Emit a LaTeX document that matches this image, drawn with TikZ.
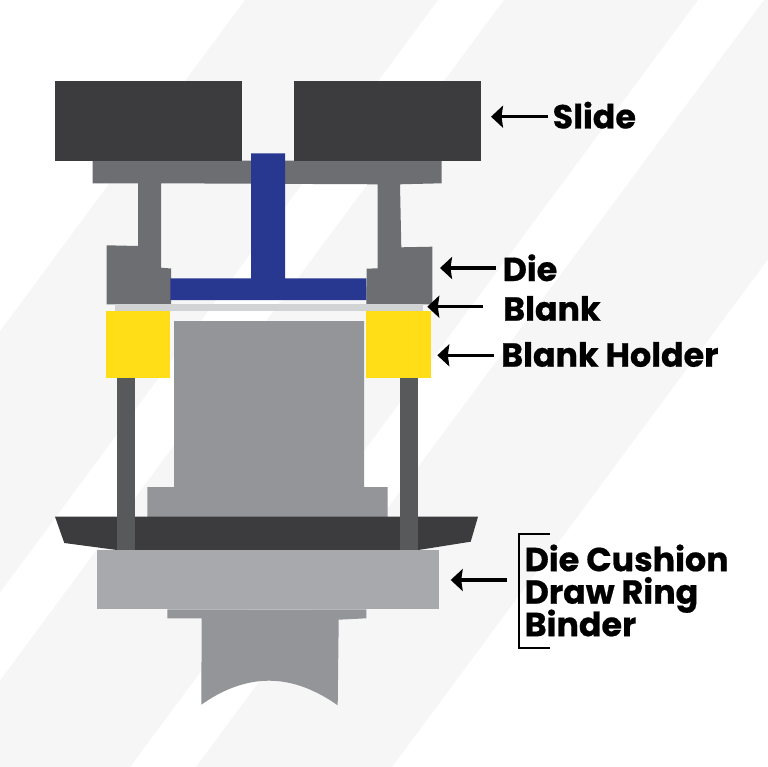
\documentclass[tikz,border=0pt]{standalone}
\usepackage{fontspec}
\setmainfont{Poppins}[BoldFont={Poppins Bold},BoldFeatures={FakeBold=0.6}]
\usetikzlibrary{arrows.meta}
\setlength{\lineskiplimit}{-100pt}
\setlength{\normallineskiplimit}{-100pt}
\definecolor{bandgrey}{HTML}{F6F6F6}
\definecolor{slidedark}{HTML}{3C3C3E}
\definecolor{diegrey}{HTML}{6D6E71}
\definecolor{punchblue}{HTML}{283891}
\definecolor{holderyellow}{HTML}{FFDE17}
\definecolor{punchgrey}{HTML}{939598}
\definecolor{pingrey}{HTML}{58595B}
\definecolor{ringgrey}{HTML}{A7A9AC}
\definecolor{blankgrey}{HTML}{D1D3D4}
\tikzset{
  band/.style={fill=bandgrey},
  partlabel/.style={anchor=west,inner sep=0pt,font=\bfseries\fontsize{33.3}{32.5}\selectfont,text=black},
  pointer/.style={line width=3.5pt,-{Stealth[length=12pt,width=22pt,inset=1.5pt]}},
  bracketline/.style={line width=2pt,line cap=butt,black}
}
\begin{document}
\begin{tikzpicture}[x=1pt,y=-1pt]
\useasboundingbox (0,0) rectangle (768,767);
\fill[white] (0,0) rectangle (768,767);
% diagonal background bands
\begin{scope}
\clip (0,0) rectangle (768,767);
\fill[band] (245,0) -- (438,0) -- (-129,767) -- (-322,767) -- cycle;
\fill[band] (504,0) -- (698,0) -- (130,767) -- (-64,767) -- cycle;
\fill[band] (764,0) -- (960,0) -- (392,767) -- (196,767) -- cycle;
\end{scope}
% die and upper plate
\fill[diegrey] (92.7,160.7) -- (441.7,160.7) -- (441.7,183.3) -- (400,184.3) -- (401.3,247.3) -- (432.3,246.7) -- (432.3,304.3) -- (366.3,304.3) -- (366.7,268.7) -- (377.7,268.3) -- (377.7,184.3) -- (161,183.3) -- (161,267.7) -- (171,268.5) -- (171,304) -- (106.7,304.3) -- (106.7,245.3) -- (138,246) -- (138,183.3) -- (92.7,183.3) -- cycle;
% slide
\fill[slidedark] (54.7,81) rectangle (242.3,160.7);
\fill[slidedark] (294,81) rectangle (481,160.7);
% blue punch
\fill[punchblue] (251,153.3) -- (285,153.3) -- (285,278.3) -- (366.3,278.3) -- (366.3,300) -- (170.3,300) -- (170.3,278.3) -- (251,278.3) -- cycle;
% blank
\fill[blankgrey] (115,304.3) rectangle (423.3,311);
% lower punch
\fill[punchgrey] (174,321) -- (364,321) -- (364,487) -- (387.7,487) -- (387.7,517) -- (147.3,517) -- (147.3,487) -- (174,487) -- cycle;
% blank holder
\fill[holderyellow] (106,311) rectangle (170,378);
\fill[holderyellow] (366,311) rectangle (430.7,378);
% dark plate
\fill[slidedark] (55,516.7) -- (478,516.7) -- (470.7,541.7) -- (418.3,550) -- (117,550) -- (64.3,543) -- cycle;
% pins
\fill[pingrey] (117,378) rectangle (135.3,550);
\fill[pingrey] (399.7,378) rectangle (418.3,550);
% ring and stem
\fill[ringgrey] (97.3,550) rectangle (438.7,609.3);
\fill[punchgrey] (167.3,609.3) -- (366.3,609.3) -- (366.3,618.3) -- (338.7,619.7) -- (337.7,705.3) .. controls (316,690) and (293,680.7) .. (269,680.7) .. controls (245,680.7) and (222,690) .. (201.3,704.7) -- (201.7,618.3) -- (167.3,618.3) -- cycle;
% labels
\node[partlabel] (lblSlide) at (552.5,115.2) {Slide};
\node[partlabel] (lblDie) at (502.5,267.8) {Die};
\node[partlabel] (lblBlank) at (503,308.5) {Blank};
\node[partlabel] (lblHolder) at (501,354.5) {Blank Holder};
\node[partlabel,align=left] (lblRing) at (524.5,590.5) {Die Cushion\\Draw Ring\\Binder};
% arrow tips
\coordinate (tipSlide) at (491,116.7);
\coordinate (tipDie) at (440,268);
\coordinate (tipBlank) at (427.3,306.7);
\coordinate (tipHolder) at (437.3,355.3);
\coordinate (tipRing) at (450.7,580);
\draw[pointer,shorten <=4.8pt] (lblSlide.west |- tipSlide) -- (tipSlide);
\draw[pointer,shorten <=6.5pt] (lblDie.west |- tipDie) -- (tipDie);
\draw[pointer,shorten <=19.7pt] (lblBlank.west |- tipBlank) -- (tipBlank);
\draw[pointer,shorten <=7pt] (lblHolder.west |- tipHolder) -- (tipHolder);
\draw[pointer,shorten <=17.8pt] (lblRing.west |- tipRing) -- (tipRing);
% bracket
\draw[bracketline] (550,534.3) -- (519.3,534.3) -- (519.3,648) -- (550,648);
\end{tikzpicture}
\end{document}
